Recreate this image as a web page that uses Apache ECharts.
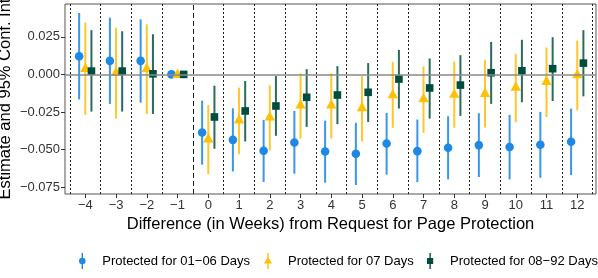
<!DOCTYPE html>
<html><head><meta charset="utf-8">
<script src="https://cdn.jsdelivr.net/npm/echarts@6/dist/echarts.min.js"></script>
<style>html,body{margin:0;padding:0;background:#fff}#c{width:598px;height:278px}</style>
</head><body><div id="c"></div>
<script>
const weeks = [-4,-3,-2,-1,0,1,2,3,4,5,6,7,8,9,10,11,12];
const yTicks = [-0.075,-0.05,-0.025,0,0.025];
const seriesNames = ['Protected for 01\u221206 Days','Protected for 07 Days','Protected for 08\u221292 Days'];

const blueEst = [0.0121,0.009,0.009,0,-0.0386,-0.0435,-0.0508,-0.0453,-0.0512,-0.0528,-0.0459,-0.051,-0.0488,-0.047,-0.0483,-0.0468,-0.0448];
const blueLo  = [-0.0166,-0.0196,-0.0188,0,-0.060,-0.0645,-0.0715,-0.066,-0.072,-0.0735,-0.0667,-0.0717,-0.0698,-0.0682,-0.0698,-0.0687,-0.0669];
const blueHi  = [0.0408,0.0377,0.0366,0,-0.0174,-0.0225,-0.0302,-0.0243,-0.0307,-0.0322,-0.0256,-0.030,-0.0278,-0.0258,-0.0269,-0.0249,-0.0227];

const yellowEst = [0.004,0.0014,0.004,0,-0.0428,-0.0302,-0.0283,-0.0203,-0.0203,-0.0221,-0.0135,-0.0161,-0.0132,-0.0126,-0.0084,-0.0046,-0.0002];
const yellowLo  = [-0.0269,-0.0294,-0.0263,0,-0.0662,-0.053,-0.0506,-0.0428,-0.0426,-0.0446,-0.0355,-0.0389,-0.0355,-0.0353,-0.0318,-0.0283,-0.0239];
const yellowHi  = [0.0344,0.031,0.0333,0,-0.0203,-0.0088,-0.0073,0.0007,0.0007,-0.0011,0.0082,0.0053,0.0086,0.0097,0.0137,0.0179,0.0225];

const greenEst = [0.0022,0.0022,0.0004,0,-0.0283,-0.0243,-0.021,-0.0152,-0.0137,-0.0119,-0.0031,-0.009,-0.0071,0.0011,0.0024,0.0038,0.0075];
const greenLo  = [-0.0247,-0.0247,-0.0263,0,-0.0494,-0.0446,-0.0408,-0.0349,-0.0331,-0.0316,-0.0227,-0.0294,-0.0276,-0.0196,-0.0185,-0.0177,-0.0146];
const greenHi  = [0.0294,0.0287,0.0267,0,-0.0075,-0.0044,-0.0011,0.0035,0.0055,0.0075,0.0163,0.0106,0.0128,0.0216,0.023,0.0247,0.0294];

const FONT = '"Liberation Sans", Arial, Helvetica, sans-serif';
const colors = ['#1E88E5','#FFC107','#004D40'];
const lineColors = ['#3A96E8','#FFC72C','#2B6B5D'];

function rows(est, lo, hi){ return weeks.map((w,i)=>[w, est[i], lo[i], hi[i]]); }

function makeRender(offset, shape, color, lineColor){
  return function(params, api){
    const x = api.value(0) + offset;
    const v = api.value(1), lo = api.value(2), hi = api.value(3);
    const p = api.coord([x, v]);
    const pl = api.coord([x, lo]);
    const ph = api.coord([x, hi]);
    const children = [];
    if (lo !== hi) {
      children.push({type:'line', shape:{x1:pl[0],y1:pl[1],x2:ph[0],y2:ph[1]}, style:{stroke:lineColor, lineWidth:2}});
    }
    if (shape === 'circle') {
      children.push({type:'circle', shape:{cx:p[0], cy:p[1], r:4.3}, style:{fill:color}});
    } else if (shape === 'triangle') {
      children.push({type:'polygon', shape:{points:[[p[0],p[1]-5.8],[p[0]+5.2,p[1]+3.6],[p[0]-5.2,p[1]+3.6]]}, style:{fill:color}});
    } else {
      children.push({type:'rect', shape:{x:p[0]-3.8, y:p[1]-3.8, width:7.6, height:7.6}, style:{fill:color}});
    }
    return {type:'group', children};
  };
}

const dividers = [weeks[0] - 0.5].concat(weeks.map(w => w + 0.5));
const icons = [
  'path://M3.3,0H4.7V16H3.3Z M7.3,8A3.3,3.3,0,1,1,0.7,8A3.3,3.3,0,1,1,7.3,8Z',
  'path://M3.3,0H4.7V16H3.3Z M4,3.6L8,10.6H0Z',
  'path://M3.3,0H4.7V16H3.3Z M0.9,4.9H7.1V11.1H0.9Z'
];
const legendCenters = [83, 268, 431];

const chart = echarts.init(document.getElementById('c'), null, {renderer:'canvas'});
chart.setOption({
  animation:false,
  textStyle:{fontFamily:FONT},
  grid:{left:65, right:2, top:4, bottom:84, show:true, borderColor:'#555', borderWidth:1, backgroundColor:'transparent', outerBoundsMode:'none', containLabel:false},
  xAxis:{
    type:'value', min:-4.66, max:12.61,
    name:'Difference (in Weeks) from Request for Page Protection',
    nameLocation:'middle', nameGap:22, nameMoveOverlap:false,
    nameTextStyle:{fontFamily:FONT, fontSize:16.5, color:'#000'},
    axisLine:{show:false, onZero:false},
    splitLine:{show:false},
    axisTick:{show:true, length:4, customValues:weeks, lineStyle:{color:'#333'}},
    axisLabel:{customValues:weeks, margin:5, fontFamily:FONT, fontSize:13, color:'#333',
      formatter:v => String(v).replace('-', '\u2212')}
  },
  yAxis:{
    type:'value', min:-0.0795, max:0.0468,
    name:'Estimate and 95% Conf. Int',
    nameLocation:'middle', nameGap:51, nameMoveOverlap:false,
    nameTextStyle:{fontFamily:FONT, fontSize:16.5, color:'#000'},
    axisLine:{show:false, onZero:false},
    splitLine:{show:false},
    axisTick:{show:true, length:4, customValues:yTicks, lineStyle:{color:'#333'}},
    axisLabel:{customValues:yTicks, margin:5, fontFamily:FONT, fontSize:13, color:'#333',
      formatter:v => v.toFixed(3).replace('-', '\u2212')}
  },
  legend: seriesNames.map((n, i) => ({
    left: legendCenters[i] - 4, top: 253, itemWidth:8, itemHeight:16, padding:0,
    textStyle:{fontFamily:FONT, fontSize:13, color:'#000', padding:[0,0,0,11]},
    data:[{name:n, icon:icons[i]}]
  })),
  series:[
    {
      type:'line', data:[], silent:true, z:1,
      markLine:{
        silent:true, symbol:'none', animation:false, label:{show:false},
        data: dividers.map(d => ({xAxis:d, lineStyle:{type: d === -0.5 ? [5,3] : [2,2], color:'#222', width:1}}))
          .concat([{yAxis:0, lineStyle:{type:'solid', color:'#8a8a8a', width:1.6}}])
      }
    },
    {name:seriesNames[0], type:'custom', z:3, itemStyle:{color:colors[0]}, renderItem:makeRender(-0.2,'circle',colors[0],lineColors[0]), data:rows(blueEst, blueLo, blueHi)},
    {name:seriesNames[1], type:'custom', z:3, itemStyle:{color:colors[1]}, renderItem:makeRender(0,'triangle',colors[1],lineColors[1]), data:rows(yellowEst, yellowLo, yellowHi)},
    {name:seriesNames[2], type:'custom', z:3, itemStyle:{color:colors[2]}, renderItem:makeRender(0.2,'square',colors[2],lineColors[2]), data:rows(greenEst, greenLo, greenHi)}
  ]
});
</script></body></html>
